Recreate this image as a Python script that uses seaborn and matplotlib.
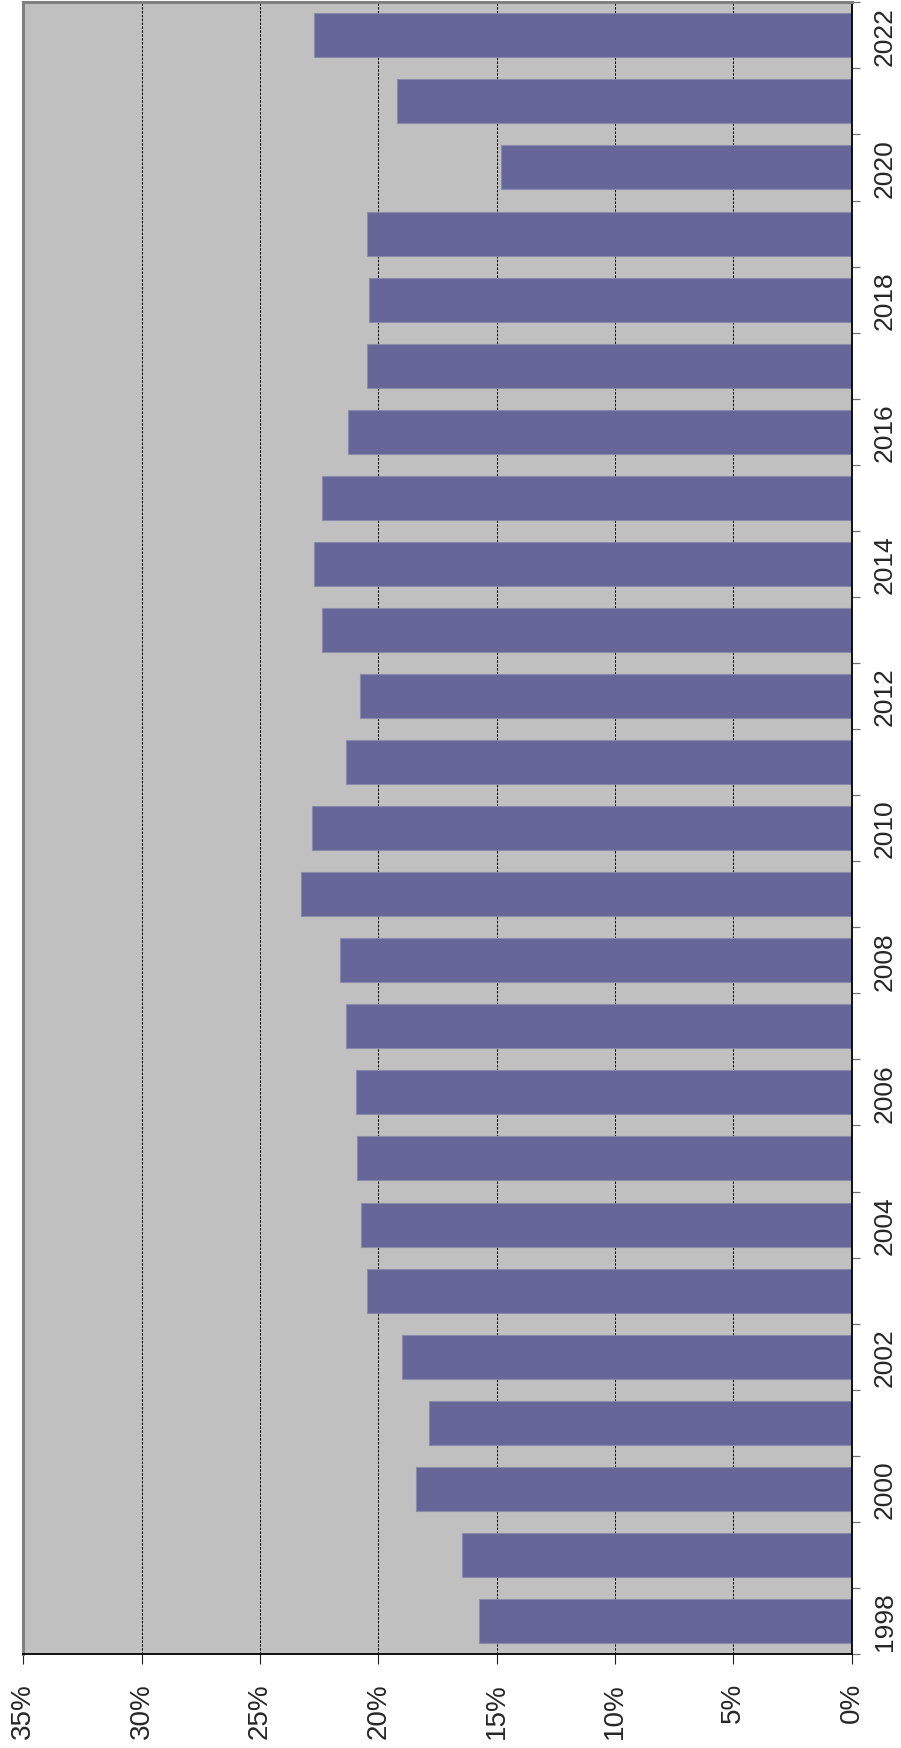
import numpy as np
import pandas as pd
import matplotlib
matplotlib.use("Agg")
import matplotlib.pyplot as plt
import seaborn as sns

# values, percent
years = list(range(1998, 2023))
share = [15.76, 16.47, 18.39, 17.88, 18.98, 20.48, 20.73, 20.90, 20.93, 21.38,
         21.61, 23.28, 22.80, 21.38, 20.79, 22.39, 22.70, 22.39, 21.30, 20.48,
         20.40, 20.48, 14.80, 19.22, 22.70]
pct_ticks = [0, 5, 10, 15, 20, 25, 30, 35]

bar_color = "#666699"
plot_bg = "#C0C0C0"

df = pd.DataFrame({"year": [str(y) for y in years], "share": share})
order = [str(y) for y in reversed(years)]

sns.set_style("white")
plt.rcParams["font.family"] = ["Liberation Sans", "DejaVu Sans"]

fig = plt.figure(figsize=(9.01, 17.49), dpi=100)
ax = fig.add_axes([23.3 / 901, 94 / 1749, (851.7 - 23.3) / 901, (1655 - 3.3) / 1749])
ax.set_facecolor(plot_bg)

sns.barplot(data=df, x="share", y="year", order=order, orient="h",
            color=bar_color, saturation=1, width=0.666,
            edgecolor="#8a8aaa", linewidth=0.8, ax=ax)

ax.set_xlim(35, 0)
ax.set_ylim(len(order) - 0.5, -0.5)
ax.set_xticks(pct_ticks)
ax.set_xticklabels([f"{v}%" for v in pct_ticks], rotation=90, fontsize=20)
ax.tick_params(axis="x", which="major", direction="out", length=7.2, width=0.8,
               color="#202020", pad=13, bottom=True)

# years on the right, labels every second year, ticks between categories
centers = np.arange(len(order))
ax.set_yticks(centers)
ax.set_yticklabels([lab if int(lab) % 2 == 0 else "" for lab in order],
                   rotation=90, va="center", fontsize=19)
ax.set_yticks(np.arange(-0.5, len(order), 1), minor=True)
ax.tick_params(axis="y", which="both", left=False, right=True,
               labelleft=False, labelright=True)
ax.tick_params(axis="y", which="major", length=0, pad=15)
ax.tick_params(axis="y", which="minor", length=6, width=0.9, color="#707070",
               direction="out")

ax.set_axisbelow(True)
ax.grid(axis="x", which="major", color="black", linestyle=(0, (2.5, 1.5)), linewidth=0.7)
ax.grid(axis="y", visible=False)

for side in ["left", "top"]:
    ax.spines[side].set_color("#808080")
    ax.spines[side].set_linewidth(2.2)
for side in ["right", "bottom"]:
    ax.spines[side].set_color("black")
    ax.spines[side].set_linewidth(1.3)

ax.set_xlabel("")
ax.set_ylabel("")

plt.savefig("out.png", dpi=100)
